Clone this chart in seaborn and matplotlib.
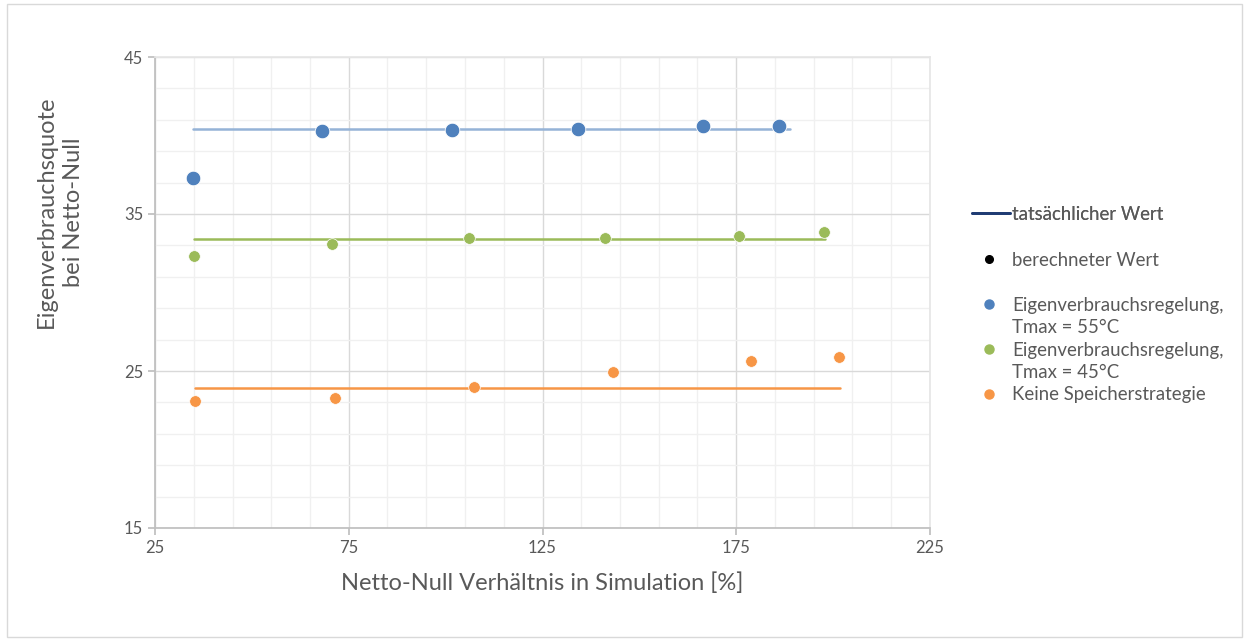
import numpy as np
import pandas as pd
import matplotlib
matplotlib.use("Agg")
import matplotlib.pyplot as plt
import seaborn as sns
from matplotlib.lines import Line2D

# --- data ------------------------------------------------------------
x_55 = [34.8, 68.1, 101.6, 134.2, 166.4, 186.0]
y_55 = [37.3, 40.3, 40.35, 40.4, 40.6, 40.6]
x_45 = [35.1, 70.7, 106.0, 141.1, 175.7, 197.6]
y_45 = [32.3, 33.1, 33.45, 33.5, 33.6, 33.85]
x_none = [35.3, 71.5, 107.3, 143.2, 178.8, 201.5]
y_none = [23.1, 23.3, 24.0, 24.95, 25.65, 25.9]

# actual value lines (start, end)
line_x_55 = [34.8, 188.9]
line_y_55 = [40.42, 40.42]
line_x_45 = [35.1, 197.9]
line_y_45 = [33.41, 33.41]
line_x_none = [35.3, 201.7]
line_y_none = [23.92, 23.92]

x_ticks = [25, 75, 125, 175, 225]
y_ticks = [15, 25, 35, 45]

colors = ["#4F81BD", "#9BBB59", "#F79646"]
line_colors = ["#95B3D7", "#9BBB59", "#F79646"]

sns.set_theme(style="white")
plt.rcParams["font.family"] = ["Lato", "DejaVu Sans"]
txt = "#595959"

fig = plt.figure(figsize=(12.49, 6.41), dpi=100)
ax = fig.add_axes([155 / 1249, 1 - 528 / 641, 775 / 1249, 471 / 641])

# --- lines -----------------------------------------------------------
for lx, ly, c in [(line_x_55, line_y_55, line_colors[0]),
                  (line_x_45, line_y_45, line_colors[1]),
                  (line_x_none, line_y_none, line_colors[2])]:
    sns.lineplot(x=lx, y=ly, ax=ax, color=c, lw=1.8, zorder=3)

# --- points ----------------------------------------------------------
sns.scatterplot(x=x_55, y=y_55, ax=ax, color=colors[0], s=110, edgecolor="white", linewidth=0.6, zorder=4)
sns.scatterplot(x=x_45, y=y_45, ax=ax, color=colors[1], s=70, edgecolor="white", linewidth=0.5, zorder=4)
sns.scatterplot(x=x_none, y=y_none, ax=ax, color=colors[2], s=70, edgecolor="white", linewidth=0.5, zorder=4)

# --- axes ------------------------------------------------------------
ax.set_xlim(25, 225)
ax.set_ylim(15, 45)
ax.set_xticks(x_ticks)
ax.set_yticks(y_ticks)
ax.set_xticks(np.arange(25, 226, 10), minor=True)
ax.set_yticks(np.arange(15, 46, 2), minor=True)
ax.grid(which="major", color="#D9D9D9", lw=1.0)
ax.grid(which="minor", color="#F0F0F0", lw=1.0)
ax.set_axisbelow(True)
for side in ["top", "right"]:
    ax.spines[side].set_color("#E6E6E6")
for side in ["left", "bottom"]:
    ax.spines[side].set_color("#BFBFBF")
ax.tick_params(axis="both", which="major", labelsize=12, colors=txt, length=5, color="#BFBFBF",
               direction="out", bottom=True, left=True)
ax.tick_params(which="minor", length=0)
ax.set_xlabel("Netto-Null Verhältnis in Simulation [%]", fontsize=17, color=txt, labelpad=12)
ax.set_ylabel("Eigenverbrauchsquote\nbei Netto-Null", fontsize=17, color=txt, linespacing=1.35)
ax.yaxis.set_label_coords(-0.092, 0.671)

# --- legend ----------------------------------------------------------
leg1 = fig.legend([Line2D([0], [0], color="#1F3B73", lw=2)], ["tatsächlicher Wert"],
                  loc="upper left", bbox_to_anchor=(972 / 1249, 1 - 206 / 641),
                  frameon=False, fontsize=13.4, handlelength=2.05, handletextpad=0.1,
                  borderpad=0, borderaxespad=0)
blank = Line2D([], [], ls="", marker="")
dots = [Line2D([0], [0], marker="o", ls="", color="black", markersize=5.5), blank,
        Line2D([0], [0], marker="o", ls="", color=colors[0], markersize=6.5), blank,
        Line2D([0], [0], marker="o", ls="", color=colors[1], markersize=6.5), blank,
        Line2D([0], [0], marker="o", ls="", color=colors[2], markersize=6.5)]
dot_labels = ["berechneter Wert", " ",
              "Eigenverbrauchsregelung,", "Tmax = 55°C",
              "Eigenverbrauchsregelung,", "Tmax = 45°C",
              "Keine Speicherstrategie"]
leg2 = fig.legend(dots, dot_labels,
                  loc="upper left", bbox_to_anchor=(974 / 1249, 1 - 252 / 641),
                  frameon=False, fontsize=13.4, handlelength=1.6, handletextpad=0.44,
                  labelspacing=0.29, borderpad=0, borderaxespad=0)
fig.add_artist(leg1)
for leg in (leg1, leg2):
    for t in leg.get_texts():
        t.set_color(txt)

# outer border
fig.patches.append(plt.Rectangle((0.006, 0.006), 0.988, 0.988, transform=fig.transFigure,
                                 fill=False, edgecolor="#D9D9D9", lw=1))

fig.savefig("out.png", dpi=100)
